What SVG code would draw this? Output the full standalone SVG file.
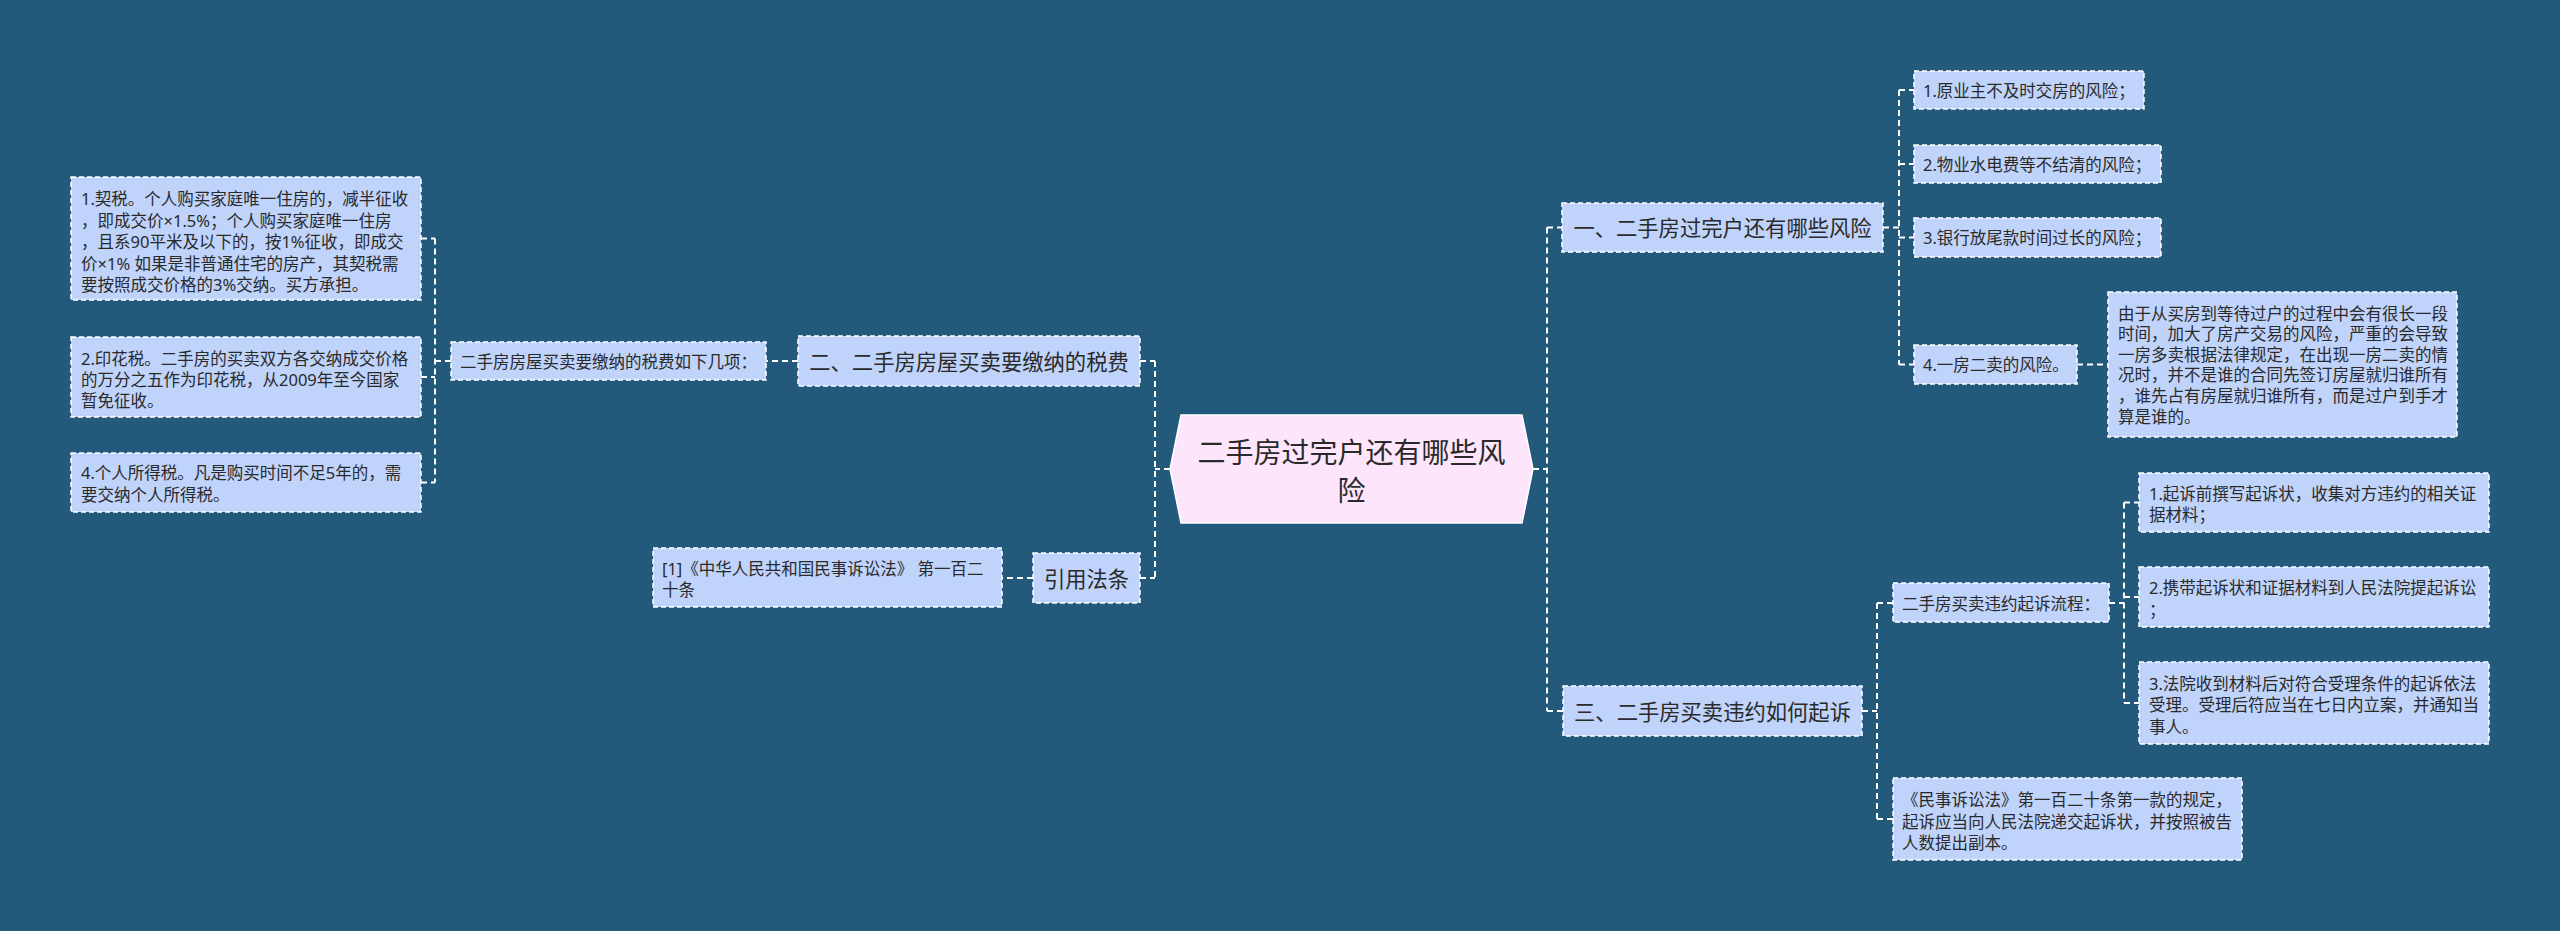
<svg xmlns="http://www.w3.org/2000/svg" width="2560" height="931" viewBox="0 0 2560 931">
<style>
.bg{fill:#235a7b}
.box{fill:#bfd3fb;stroke:#ffffff;stroke-width:1.5;stroke-dasharray:5 3}
.center{fill:#fde5fb;stroke:#ffffff;stroke-width:1.5}
.con{fill:none;stroke:#ffffff;stroke-width:2;stroke-dasharray:6 4}
text{font-family:"Noto Sans","Noto Sans CJK SC",sans-serif;fill:#2a2a2a;dominant-baseline:central}
.s{font-size:16.5px}
.m{font-size:21.3px}
.c{font-size:28px}
.mid{text-anchor:middle}
</style>
<rect class="bg" x="0" y="0" width="2560" height="931"/>
<g id="connectors">
<path class="con" d="M1170 469 H1155 M1155 361 V578 M1140 361 H1155 M1140 578 H1155"/>
<path class="con" d="M1033 578 H1002"/>
<path class="con" d="M798 361 H766"/>
<path class="con" d="M451 361 H435 M435 238.5 V482.5 M421 238.5 H435 M421 377 H435 M421 482.5 H435"/>
<path class="con" d="M1533 469 H1547 M1547 227.5 V711 M1547 227.5 H1562 M1547 711 H1563"/>
<path class="con" d="M1883 227.5 H1899 M1899 90 V364.5 M1899 90 H1914 M1899 164 H1914 M1899 237.5 H1914 M1899 364.5 H1914"/>
<path class="con" d="M2077 364.5 H2108"/>
<path class="con" d="M1862 711 H1877 M1877 603 V819 M1877 603 H1893 M1877 819 H1893"/>
<path class="con" d="M2109 603 H2124 M2124 502.5 V703 M2124 502.5 H2139 M2124 597 H2139 M2124 703 H2139"/>
</g>
<g id="root">
<polygon class="center" points="1181,415 1522,415 1533,469 1522,523 1181,523 1170,469"/>
<text class="c mid" x="1351.5" y="452">二手房过完户还有哪些风</text>
<text class="c mid" x="1351.5" y="490">险</text>
</g>
<g id="n-tax">
<rect class="box" x="798" y="336" width="342" height="50"/>
<text class="m mid" x="969" y="361">二、二手房房屋买卖要缴纳的税费</text>
</g>
<g id="n-tax-intro">
<rect class="box" x="451" y="342" width="315" height="38"/>
<text class="s" x="460" y="361">二手房房屋买卖要缴纳的税费如下几项：</text>
</g>
<g id="n-tax-1">
<rect class="box" x="71" y="177" width="350" height="123"/>
<text class="s" x="81" y="198.5">1.契税。个人购买家庭唯一住房的，减半征收</text>
<text class="s" x="81" y="220.1">，即成交价×1.5%；个人购买家庭唯一住房</text>
<text class="s" x="81" y="241.7">，且系90平米及以下的，按1%征收，即成交</text>
<text class="s" x="81" y="263.3">价×1% 如果是非普通住宅的房产，其契税需</text>
<text class="s" x="81" y="284.9">要按照成交价格的3%交纳。买方承担。</text>
</g>
<g id="n-tax-2">
<rect class="box" x="71" y="337" width="350" height="80"/>
<text class="s" x="81" y="358">2.印花税。二手房的买卖双方各交纳成交价格</text>
<text class="s" x="81" y="379">的万分之五作为印花税，从2009年至今国家</text>
<text class="s" x="81" y="400">暂免征收。</text>
</g>
<g id="n-tax-4">
<rect class="box" x="71" y="453" width="350" height="59"/>
<text class="s" x="81" y="472.5">4.个人所得税。凡是购买时间不足5年的，需</text>
<text class="s" x="81" y="494">要交纳个人所得税。</text>
</g>
<g id="n-law">
<rect class="box" x="1033" y="553" width="107" height="50"/>
<text class="m mid" x="1086.5" y="578">引用法条</text>
</g>
<g id="n-law-ref">
<rect class="box" x="653" y="548" width="349" height="59"/>
<text class="s" x="662" y="568">[1]《中华人民共和国民事诉讼法》 第一百二</text>
<text class="s" x="662" y="589.5">十条</text>
</g>
<g id="n-risk">
<rect class="box" x="1562" y="203" width="321" height="49"/>
<text class="m mid" x="1722.5" y="227.5">一、二手房过完户还有哪些风险</text>
</g>
<g id="n-risk-1">
<rect class="box" x="1914" y="71" width="230" height="38"/>
<text class="s" x="1923" y="90">1.原业主不及时交房的风险；</text>
</g>
<g id="n-risk-2">
<rect class="box" x="1914" y="145" width="247" height="38"/>
<text class="s" x="1923" y="164">2.物业水电费等不结清的风险；</text>
</g>
<g id="n-risk-3">
<rect class="box" x="1914" y="218" width="247" height="39"/>
<text class="s" x="1923" y="237.5">3.银行放尾款时间过长的风险；</text>
</g>
<g id="n-risk-4">
<rect class="box" x="1914" y="345" width="163" height="39"/>
<text class="s" x="1923" y="364.5">4.一房二卖的风险。</text>
</g>
<g id="n-risk-4-detail">
<rect class="box" x="2108" y="292" width="349" height="145"/>
<text class="s" x="2118" y="313">由于从买房到等待过户的过程中会有很长一段</text>
<text class="s" x="2118" y="333.6">时间，加大了房产交易的风险，严重的会导致</text>
<text class="s" x="2118" y="354.2">一房多卖根据法律规定，在出现一房二卖的情</text>
<text class="s" x="2118" y="374.8">况时，并不是谁的合同先签订房屋就归谁所有</text>
<text class="s" x="2118" y="395.4">，谁先占有房屋就归谁所有，而是过户到手才</text>
<text class="s" x="2118" y="416">算是谁的。</text>
</g>
<g id="n-sue">
<rect class="box" x="1563" y="686" width="299" height="50"/>
<text class="m mid" x="1712.5" y="711">三、二手房买卖违约如何起诉</text>
</g>
<g id="n-sue-flow">
<rect class="box" x="1893" y="583" width="216" height="39"/>
<text class="s" x="1902" y="603">二手房买卖违约起诉流程：</text>
</g>
<g id="n-sue-1">
<rect class="box" x="2139" y="473" width="350" height="59"/>
<text class="s" x="2149" y="493">1.起诉前撰写起诉状，收集对方违约的相关证</text>
<text class="s" x="2149" y="514">据材料；</text>
</g>
<g id="n-sue-2">
<rect class="box" x="2139" y="567" width="350" height="60"/>
<text class="s" x="2149" y="587">2.携带起诉状和证据材料到人民法院提起诉讼</text>
<text class="s" x="2149" y="609">；</text>
</g>
<g id="n-sue-3">
<rect class="box" x="2139" y="662" width="350" height="82"/>
<text class="s" x="2149" y="683">3.法院收到材料后对符合受理条件的起诉依法</text>
<text class="s" x="2149" y="704.5">受理。受理后符应当在七日内立案，并通知当</text>
<text class="s" x="2149" y="726">事人。</text>
</g>
<g id="n-sue-law">
<rect class="box" x="1893" y="778" width="349" height="82"/>
<text class="s" x="1902" y="799.5">《民事诉讼法》第一百二十条第一款的规定，</text>
<text class="s" x="1902" y="821">起诉应当向人民法院递交起诉状，并按照被告</text>
<text class="s" x="1902" y="842.5">人数提出副本。</text>
</g>
</svg>
